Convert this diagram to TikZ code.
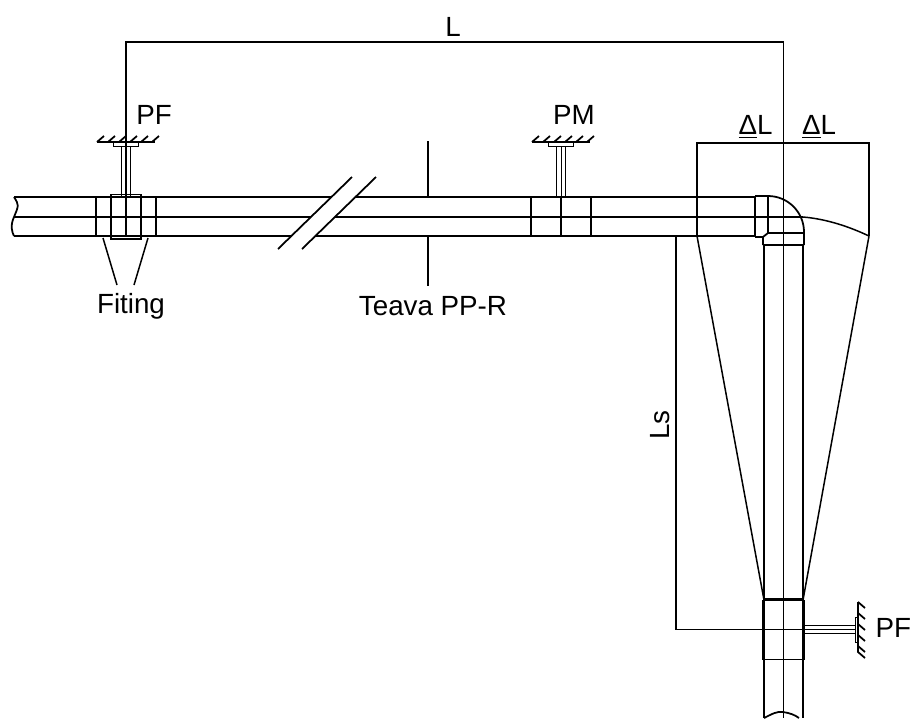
\documentclass[tikz,border=0pt]{standalone}
\usepackage{fontspec}
\setmainfont{Liberation Sans}
\usepackage{xcolor}
\usepackage{tikz}
\usetikzlibrary{calc}
\tikzset{
  dim/.style={line width=0.85pt},
  pipe/.style={line width=1pt},
  fit/.style={line width=1.4pt},
  rod/.style={line width=0.5pt},
  lbl/.style={inner sep=0pt,font=\fontsize{15.8}{16}\selectfont}
}

\begin{document}
\begin{tikzpicture}[x=0.02cm,y=-0.02cm]
    \useasboundingbox (0,0) rectangle (912,718);

    % pipe, left run
    \coordinate (pipeta) at (14,197);
    \coordinate (pipema) at (14,217);
    \coordinate (pipeba) at (14,236);
    \draw [pipe] (pipeta) -- (331,197) (355,197) -- (755,197);
    \draw [pipe] (pipema) -- (311,217) (335,217) -- (803,217);
    \draw [pipe] (pipeba) -- (291,236) (315,236) -- (755,236);
    \draw [pipe] (pipeta) .. controls (19,205) .. (pipema) .. controls (10,226) and (12,232) .. (pipeba);
    \coordinate (brka) at (278,249);
    \coordinate (brkb) at (352,177);
    \coordinate (brkc) at (302,249);
    \coordinate (brkd) at (376,177);
    \draw [pipe] (brka) -- (brkb);
    \draw [pipe] (brkc) -- (brkd);

    % elbow
    \draw [fit] (755,236) -- (755,196);
    \draw [pipe] (755,196) -- (768,196) -- (768,233);
    \draw [pipe] (755,237) -- (763,237);
    \draw [pipe] (768,196) arc (-90:0:36) -- (804,245);
    \draw [pipe] (763,245) -- (763,237) -- (768,233) -- (804,233);
    \draw [fit] (763,245) -- (804,245);

    % pipe, down run
    \draw [pipe] (764,245) -- (764,600) (764,659) -- (764,718);
    \draw [pipe] (803,245) -- (803,600) (803,659) -- (803,718);
    \draw [pipe] (764,718) .. controls (772,714) and (777,711) .. (783,712) .. controls (790,713) and (795,715) .. (799,718);

    % fittings
    \coordinate (fita) at (126,216);
    \coordinate (fitb) at (561,216);
    \coordinate (fitc) at (783.5,629.5);
    \draw [fit] ($(fita)+(-30,-20)$) -- ($(fita)+(-30,20)$) -- ($(fita)+(30,20)$) -- ($(fita)+(30,-20)$);
    \draw [pipe] ($(fita)+(-15,-22)$) -- ($(fita)+(-15,23)$) -- ($(fita)+(15,23)$) -- ($(fita)+(15,-22)$);
    \draw [rod] ($(fita)+(-30,-20)$) -- ($(fita)+(-15,-20)$) ($(fita)+(15,-20)$) -- ($(fita)+(30,-20)$);
    \draw [rod] ($(fita)+(-15,-22)$) -- ($(fita)+(15,-22)$);
    \draw [fit] ($(fitb)+(-30,-20)$) -- ($(fitb)+(-30,20)$) -- ($(fitb)+(30,20)$) -- ($(fitb)+(30,-20)$);
    \draw [rod] ($(fitb)+(-30,-20)$) -- ($(fitb)+(30,-20)$);
    \draw [pipe] ($(fitb)+(0,-20)$) -- ($(fitb)+(0,20)$);
    \draw [fit] ($(fitc)+(-20,-30)$) -- ($(fitc)+(-20,30)$);
    \draw [fit] ($(fitc)+(20,-30)$) -- ($(fitc)+(20,30)$);
    \draw [fit] ($(fitc)+(-20,-30)$) -- ($(fitc)+(20,-30)$);
    \draw [pipe] ($(fitc)+(-20,30)$) -- ($(fitc)+(20,30)$);

    % supports
    \coordinate (supa) at (126,142);
    \coordinate (supb) at (561,142);
    \coordinate (supc) at (858,630);
    \foreach \s in {supa,supb} {
      \draw [pipe] ($(\s)+(-29,0)$) -- ($(\s)+(29,0)$);
      \foreach \t in {-29,-18,-7,4,15,26}
        \draw [pipe] ($(\s)+(\t,0)$) -- ($(\s)+(\t+7,-6)$);
      \draw [rod] ($(\s)+(-13,0)$) rectangle ($(\s)+(12,4)$);
      \draw [rod] ($(\s)+(-5,4)$) -- ($(\s)+(-5,54)$);
      \draw [rod] ($(\s)+(0,4)$) -- ($(\s)+(0,54)$);
      \draw [rod] ($(\s)+(4,4)$) -- ($(\s)+(4,54)$);
    }
    \draw [pipe] ($(supc)+(0,-28)$) -- ($(supc)+(0,22)$) -- ($(supc)+(7,28)$);
    \foreach \t in {-28,-17,-6,5,16}
      \draw [pipe] ($(supc)+(0,\t)$) -- ($(supc)+(7,\t+6)$);
    \draw [rod] ($(supc)+(-3,-13)$) rectangle ($(supc)+(0,12)$);
    \draw [rod] (803,625) -- ($(supc)+(-3,-5)$);
    \draw [rod] (803,629) -- ($(supc)+(-3,-1)$);
    \draw [rod] (803,633) -- ($(supc)+(-3,3)$);

    % dimension lines
    \coordinate (dimla) at (126,42);
    \coordinate (dimlb) at (783.5,42);
    \draw [dim] (126,236) -- (dimla) -- (dimlb) -- (783.5,718);
    \coordinate (dlta) at (697,143);
    \coordinate (dltb) at (869,143);
    \draw [dim] (697,236) -- (dlta) -- (dltb) -- (869,236);
    \draw [dim] (697,236) -- (764,600);
    \draw [dim] (869,236) -- (803,600);
    \draw [dim] (803,217) .. controls (827,219) and (850,227) .. (869,236);
    \coordinate (lsa) at (676,236);
    \coordinate (lsb) at (676,629.5);
    \draw [dim] (lsa) -- (lsb) -- (803,629.5);

    % leaders
    \draw [dim] (428,141) -- (428,197);
    \draw [dim] (428,236) -- (428,286);
    \draw [dim] (103,238) -- (117,285);
    \draw [dim] (148,238) -- (134,285);

    % labels
    \node [lbl] (lbll) at (453,27) {L};
    \node [lbl] (lblpfa) at (154,115) {PF};
    \node [lbl] (lblpm) at (574,115) {PM};
    \node [lbl] (lbldla) at (755.5,127) {\underline{Δ}L};
    \node [lbl] (lbldlb) at (819,127) {\underline{Δ}L};
    \node [lbl] (lblfit) at (131,306.5) {Fiting};
    \node [lbl] (lblpp) at (433,306) {Teava PP-R};
    \node [lbl,rotate=90] (lblls) at (660,425) {Ls};
    \node [lbl,anchor=east] (lblpfb) at (911.5,628) {PF};
\end{tikzpicture}
\end{document}
